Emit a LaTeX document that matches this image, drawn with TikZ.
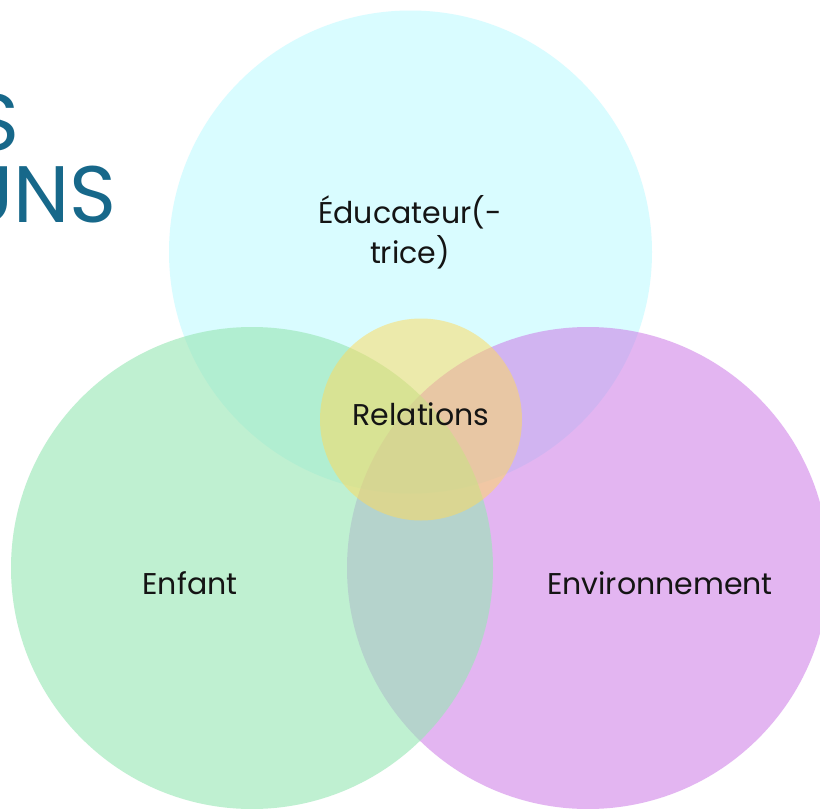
\documentclass[tikz,border=0pt]{standalone}
\usepackage{fontspec}
\setmainfont{Poppins}
\definecolor{cyanc}{RGB}{217,252,255}
\definecolor{purc}{RGB}{204,122,231}
\definecolor{grnc}{RGB}{153,231,182}
\definecolor{yelc}{RGB}{255,218,89}
\definecolor{titlec}{RGB}{23,104,138}
\definecolor{txtc}{RGB}{20,20,20}
\tikzset{
  lbl/.style={text=txtc, font=\fontsize{30}{40}\selectfont, align=center, inner sep=0pt},
  ttl/.style={text=titlec, font=\fontsize{80}{80}\selectfont, inner sep=0pt, anchor=base east},
}
\begin{document}
\begin{tikzpicture}[x=1pt,y=-1pt]
\fill[white] (0,0) rectangle (820,809);
\useasboundingbox (0,0) rectangle (820,809);
\begin{scope}
\clip (0,0) rectangle (820,809);
\node[ttl] (t1) at (20,150) {S};
\node[ttl] (t2) at (117,222) {UNS};
\fill[cyanc] (410.5,252) circle[radius=241.5];
\fill[purc, fill opacity=0.55] (588,568) circle[radius=241];
\fill[grnc, fill opacity=0.62] (252,568) circle[radius=241];
\fill[yelc, fill opacity=0.5] (421,419.5) circle[radius=101];
\end{scope}
\node[lbl] (edu) at (410,232) {Éducateur(-\\trice)};
\node[lbl] (rel) at (421,414) {Relations};
\node[lbl] (enf) at (190,583) {Enfant};
\node[lbl] (env) at (660,583) {Environnement};
\end{tikzpicture}
\end{document}
